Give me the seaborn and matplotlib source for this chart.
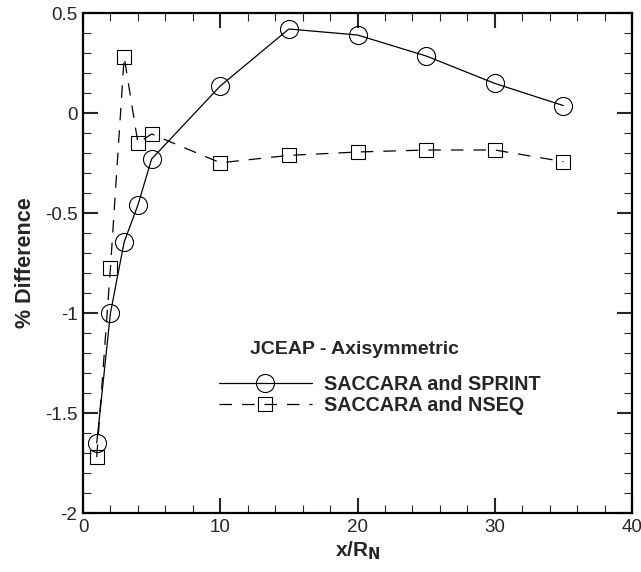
import matplotlib
matplotlib.use("Agg")
import matplotlib.pyplot as plt
import matplotlib.ticker as mt
import seaborn as sns
import pandas as pd

sns.set_style("ticks")
plt.rcParams['font.family'] = ['Liberation Sans', 'DejaVu Sans']

x_sprint = [1, 2, 3, 4, 5, 10, 15, 20, 25, 30, 35]
y_sprint = [-1.65, -1.0, -0.645, -0.46, -0.23, 0.135, 0.42, 0.39, 0.285, 0.148, 0.037]
x_nseq = [1, 2, 3, 4, 5, 10, 15, 20, 25, 30, 35]
y_nseq = [-1.72, -0.775, 0.28, -0.15, -0.105, -0.249, -0.212, -0.195, -0.185, -0.185, -0.243]

label_sprint = "SACCARA and SPRINT"
label_nseq = "SACCARA and NSEQ"
legend_title = "JCEAP - Axisymmetric"

df_s = pd.DataFrame({"x": x_sprint, "y": y_sprint})
df_n = pd.DataFrame({"x": x_nseq, "y": y_nseq})

fig = plt.figure(figsize=(6.41, 5.72), dpi=100)
ax = fig.add_axes([83/641, 59/572, 549/641, 500/572])

sns.lineplot(data=df_s, x="x", y="y", ax=ax, color="black", linewidth=0.9,
             marker="o", markersize=13, markerfacecolor="none",
             markeredgecolor="black", markeredgewidth=0.8, label=label_sprint,
             sort=False, estimator=None)
sns.lineplot(data=df_n, x="x", y="y", ax=ax, color="black", linewidth=0.9,
             marker="s", markersize=9.5, markerfacecolor="none",
             markeredgecolor="black", markeredgewidth=0.8, label=label_nseq,
             sort=False, estimator=None, linestyle="--")
ax.lines[1].set_dashes((10, 8))

ax.set_xlim(0, 40)
ax.set_ylim(-2, 0.5)
ax.xaxis.set_major_locator(mt.MultipleLocator(10))
ax.xaxis.set_minor_locator(mt.MultipleLocator(2))
ax.yaxis.set_major_locator(mt.MultipleLocator(0.5))
ax.yaxis.set_minor_locator(mt.MultipleLocator(0.1))
ax.tick_params(which="major", direction="in", length=11, width=1.5,
               top=True, right=True, labelsize=13.5, pad=4)
ax.tick_params(which="minor", direction="in", length=5.5, width=0.8,
               top=True, right=True)
for s in ax.spines.values():
    s.set_linewidth(1.6)
    s.set_color("black")

ax.yaxis.set_major_formatter(mt.FuncFormatter(lambda v, p: ("%g" % v)))
ax.xaxis.set_major_formatter(mt.FuncFormatter(lambda v, p: ("%g" % v)))

ax.set_xlabel(r"x/R$_\mathbf{N}$", fontsize=15, fontweight="bold", labelpad=3)
ax.set_ylabel("% Difference", fontsize=15.5, fontweight="bold", labelpad=6)

ax.text(167/549, 1 - (349 - 13)/500, legend_title, transform=ax.transAxes,
        fontsize=14, fontweight="bold", ha="left", va="center")
leg = ax.legend(loc="upper left", bbox_to_anchor=(136/549, 1 - (375 - 13)/500),
                frameon=False, handlelength=4.7, numpoints=1,
                prop={"weight": "bold", "size": 14.2}, labelspacing=0.08,
                handletextpad=0.6, borderpad=0, borderaxespad=0)

fig.savefig("out.png", dpi=100)
